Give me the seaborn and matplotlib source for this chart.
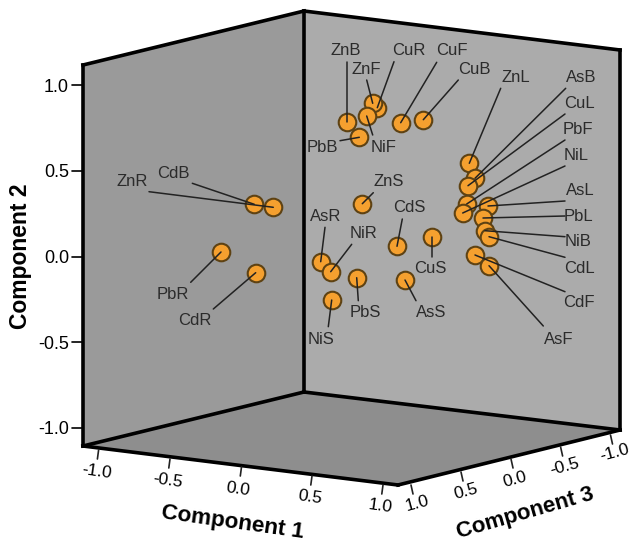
import matplotlib
matplotlib.use('Agg')
import matplotlib.pyplot as plt
import pandas as pd
import seaborn as sns

# point names and their place on the picture plane
names = ['ZnB', 'CuR', 'ZnF', 'NiF', 'CuF', 'CuB', 'PbB', 'ZnL', 'AsB', 'CuL', 'PbF', 'NiL', 'AsL', 'PbL', 'NiB', 'CdL',
         'CdF', 'AsF', 'ZnS', 'CdS', 'CuS', 'AsR', 'NiR', 'PbS', 'AsS', 'NiS', 'CdB', 'ZnR', 'PbR', 'CdR']
plane_x = [346.7, 377.3, 372.7, 366.7, 400.7, 423.3, 359.3, 469.3, 475, 468, 466.7, 462.7, 488, 483, 485, 489,
           475, 489, 362.3, 397, 431.7, 320.7, 330.7, 356.7, 405, 331.7, 254.3, 273.3, 221, 255.7]
plane_y = [121.7, 107.7, 103.3, 116, 122.7, 119.7, 137.3, 163.3, 178.3, 185.7, 204, 213, 206, 218, 230.7, 236.7,
           255, 265.7, 203.7, 246.3, 236.7, 261.7, 271.7, 277.7, 280, 300, 204.3, 207.3, 252, 272.7]

tick_text = ['-1.0', '-0.5', '0.0', '0.5', '1.0']

# layout: label centre and start of the leader for each name
label_pos = {
    'ZnB': (345.7, 50.7, 346.7, 61.7), 'ZnF': (366, 69.3, 366.7, 80), 'CuR': (409, 50.7, 394, 61.7),
    'CuF': (451.7, 50.7, 436.7, 62.3), 'CuB': (474, 69, 458.3, 80), 'ZnL': (516, 77.7, 500.7, 88.3),
    'AsB': (581.7, 77.3, 565.7, 88.3), 'CuL': (579.3, 103.3, 565, 114), 'PbF': (578.3, 129, 565, 140),
    'NiL': (576, 155.7, 565, 166), 'AsL': (580, 190.7, 565, 201), 'PbL': (578.7, 216.7, 565, 216),
    'NiB': (578.3, 241.7, 565, 236.7), 'CdL': (579.3, 268.3, 565, 257.3), 'CdF': (579.3, 302.7, 565, 291.7),
    'AsF': (558.7, 339, 543.3, 326), 'ZnS': (388.3, 181.7, 373.3, 192.7), 'CdS': (409, 207.7, 402.3, 219),
    'CuS': (430.3, 268.3, 431.7, 256.7), 'AsR': (325.3, 216.7, 325, 227.3), 'NiR': (363.3, 234, 351.7, 244.3),
    'PbS': (365.3, 312.3, 358.3, 300.7), 'AsS': (431, 312.7, 416, 300.7), 'NiS': (320.7, 339, 328.3, 326.7),
    'PbB': (322.7, 147.3, 340, 140.7), 'NiF': (383.3, 147.3, 372.7, 135), 'ZnR': (131.7, 181.7, 149, 191.7),
    'CdB': (173.3, 173.3, 192.3, 183.3), 'PbR': (172.7, 294.3, 190.7, 282.3), 'CdR': (195, 320.7, 213.3, 309),
}

df = pd.DataFrame({'name': names, 'x': plane_x, 'y': plane_y})

sns.set_theme(style='white')
plt.rcParams['font.family'] = ['Liberation Sans', 'DejaVu Sans']

fig = plt.figure(figsize=(6.31, 5.44), dpi=100)
ax = fig.add_axes([0, 0, 1, 1])
ax.set_xlim(0, 631)
ax.set_ylim(544, 0)
ax.axis('off')

# walls of the box
ax.fill([83, 304, 304, 83], [65, 11, 392, 446], color='#9a9a9a', lw=0)
ax.fill([304, 620, 620, 304], [11, 50, 430, 392], color='#ababab', lw=0)
ax.fill([83, 304, 620, 398], [446, 392, 430, 485], color='#8e8e8e', lw=0)
edges = [((83, 83), (65, 446)), ((83, 304), (65, 11)), ((304, 304), (11, 392)), ((304, 620), (11, 50)),
         ((620, 620), (50, 430)), ((83, 304), (446, 392)), ((304, 620), (392, 430)), ((83, 398), (446, 485)),
         ((398, 620), (485, 430))]
for ex, ey in edges:
    ax.plot(ex, ey, color='black', lw=2.6, solid_capstyle='projecting')

# component 2 ticks
for t, yy in zip(tick_text[::-1], [85, 170.7, 256.7, 342.3, 428]):
    ax.plot([72, 83], [yy, yy], color='black', lw=1.2)
    ax.text(69, yy + 2, t, ha='right', va='center', fontsize=13, color='black')

# component 1 ticks
c1_ticks = [(98.6, 450), (170, 459), (241.5, 467), (312, 476), (383, 485)]
c1_labels = [(96.6, 472), (168, 481), (238, 489), (310, 497), (380, 506)]
for t, (tx, ty), (lx, ly) in zip(tick_text, c1_ticks, c1_labels):
    ax.plot([tx, tx - 1.2], [ty, ty + 9], color='#222222', lw=1.2)
    ax.text(lx, ly, t, ha='center', va='center', fontsize=12.5, rotation=-8, color='black')

# component 3 ticks
c3_ticks = [(411, 485), (461, 472), (511, 459), (560.6, 447), (610.5, 435)]
c3_labels = [(417, 504), (465.6, 492), (515, 480), (565, 467), (615, 453)]
for t, (tx, ty), (lx, ly) in zip(tick_text[::-1], c3_ticks, c3_labels):
    ax.plot([tx, tx + 2], [ty, ty + 9], color='#222222', lw=1.2)
    ax.text(lx, ly, t, ha='center', va='center', fontsize=12.5, rotation=15, color='black')

ax.text(20.7, 256.7, 'Component 2', rotation=90, ha='center', va='center', fontsize=16.5, fontweight='bold', color='black')
ax.text(233, 523, 'Component 1', rotation=-8, ha='center', va='center', fontsize=16.2, fontweight='bold', color='black')
ax.text(525, 513, 'Component 3', rotation=16, ha='center', va='center', fontsize=16, fontweight='bold', color='black')

sns.scatterplot(data=df, x='x', y='y', s=160, color='#f5a02f', edgecolor='#5e4213', linewidth=1.5, ax=ax, zorder=3, clip_on=False)
ax.set_xlim(0, 631)
ax.set_ylim(544, 0)

for i in range(len(df)):
    n = df.loc[i, 'name']
    lx, ly, sx, sy = label_pos[n]
    ax.plot([sx, df.loc[i, 'x']], [sy, df.loc[i, 'y']], color='#222222', lw=1.1, zorder=4)
    ax.text(lx, ly, n, ha='center', va='center', fontsize=12, color='#2b2b2b', zorder=5)

plt.savefig('out.png', dpi=100)
